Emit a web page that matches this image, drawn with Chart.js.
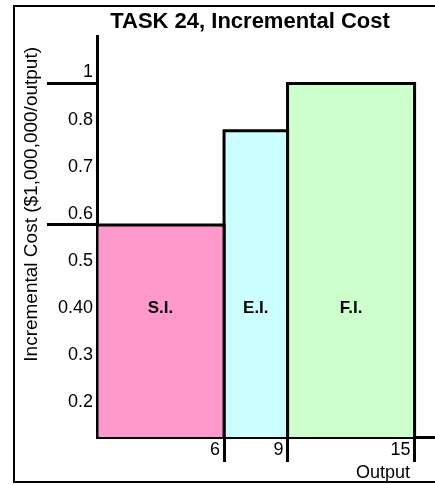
<!DOCTYPE html>
<html>
<head>
<meta charset="utf-8">
<script src="https://cdn.jsdelivr.net/npm/chart.js@4"></script>
<style>
    html, body { margin: 0; overflow: hidden; background: #fff; }
    #costChart { position: absolute; left: 0; top: 0; }
</style>
</head>
<body>
<canvas id="costChart" width="500" height="485"></canvas>
<script>
// stage boundaries on the output axis, one cost per stage
const outputs = [0, 6, 9, 15];
const stages = ['S.I.', 'E.I.', 'F.I.'];
const costs = [0.6, 0.8, 1];
const stageColors = ['#FF99CC', '#CCFFFF', '#CCFFCC'];

// the y axis of the original is not linear: its labels are evenly spaced
const yTickLabels = ['0.2', '0.3', '0.40', '0.5', '0.6', '0.7', '0.8', '1'];
const markedLabels = ['0.6', '1'];
const xTicks = [6, 9, 15];

const yBottom = -0.5;
const yPos = v => yTickLabels.findIndex(l => parseFloat(l) === v);

Chart.defaults.font.family = "'Liberation Sans', Arial, sans-serif";
Chart.defaults.color = '#000';

const datasets = stages.map((name, i) => ({
    label: name,
    data: [
        { x: outputs[i], y: yBottom },
        { x: outputs[i], y: yPos(costs[i]) },
        { x: outputs[i + 1], y: yPos(costs[i]) },
        { x: outputs[i + 1], y: yBottom }
    ],
    fill: 'start',
    backgroundColor: stageColors[i],
    borderColor: '#000',
    borderWidth: 3,
    pointRadius: 0,
    tension: 0
}));

// open frame round the plot (left, top and bottom sides only)
const frame = {
    id: 'frame',
    beforeDraw(chart) {
        const ctx = chart.ctx;
        ctx.save();
        ctx.strokeStyle = '#000';
        ctx.lineWidth = 2;
        ctx.beginPath();
        ctx.moveTo(chart.width, 6);
        ctx.lineTo(14, 6);
        ctx.lineTo(14, 482);
        ctx.lineTo(chart.width, 482);
        ctx.stroke();
        ctx.restore();
    }
};

const stageLabels = {
    id: 'stageLabels',
    afterDatasetsDraw(chart) {
        const { ctx, scales: { x, y } } = chart;
        const level = y.getPixelForValue(yTickLabels.indexOf('0.40')) - 11;
        ctx.save();
        ctx.font = "bold 17px 'Liberation Sans', Arial, sans-serif";
        ctx.fillStyle = '#000';
        ctx.textAlign = 'center';
        ctx.textBaseline = 'middle';
        stages.forEach((s, i) => {
            ctx.fillText(s, x.getPixelForValue((outputs[i] + outputs[i + 1]) / 2), level);
        });
        ctx.restore();
    }
};

const costConfig = {
    type: 'line',
    data: { datasets: datasets },
    plugins: [frame, stageLabels],
    options: {
        responsive: false,
        animation: false,
        layout: { padding: { left: 60, right: 60, top: 0, bottom: 0 } },
        plugins: {
            legend: { display: false },
            tooltip: { enabled: false },
            title: {
                display: true,
                text: 'TASK 24, Incremental Cost',
                font: { size: 22, weight: 'bold' },
                padding: { top: 9, bottom: 1 }
            }
        },
        scales: {
            x: {
                type: 'linear',
                min: 0,
                max: 16.2,
                afterBuildTicks: axis => { axis.ticks = xTicks.map(v => ({ value: v })); },
                afterFit: axis => { axis.height = 48; },
                border: { color: '#000', width: 3 },
                grid: { drawOnChartArea: false, tickLength: 25, tickWidth: 3, tickColor: '#000' },
                ticks: { align: 'end', labelOffset: -4, padding: -23, autoSkip: false, maxRotation: 0, font: { size: 18 } },
                title: { display: true, text: 'Output      ', align: 'end', font: { size: 18 }, padding: { top: 0, bottom: 1 } }
            },
            y: {
                type: 'linear',
                min: yBottom,
                max: 8,
                afterBuildTicks: axis => { axis.ticks = yTickLabels.map((l, i) => ({ value: i })); },
                afterFit: axis => { axis.width = 37; },
                border: { color: '#000', width: 3 },
                grid: {
                    drawOnChartArea: false,
                    tickLength: 50,
                    tickWidth: 3,
                    tickColor: ctx => markedLabels.includes(yTickLabels[ctx.tick.value]) ? '#000' : 'rgba(0,0,0,0)'
                },
                ticks: {
                    callback: v => yTickLabels[v],
                    // mirrored so the labels are not clipped to the narrow axis box
                    mirror: true,
                    crossAlign: 'far',
                    labelOffset: -11,
                    padding: -39,
                    autoSkip: false,
                    font: { size: 18 }
                },
                title: {
                    display: true,
                    text: 'Incremental Cost ($1,000,000/output)  ',
                    align: 'end',
                    font: { size: 19 },
                    padding: { top: -40, bottom: 0 }
                }
            }
        }
    }
};
const costChart = new Chart(document.getElementById('costChart'), costConfig);
</script>
</body>
</html>
